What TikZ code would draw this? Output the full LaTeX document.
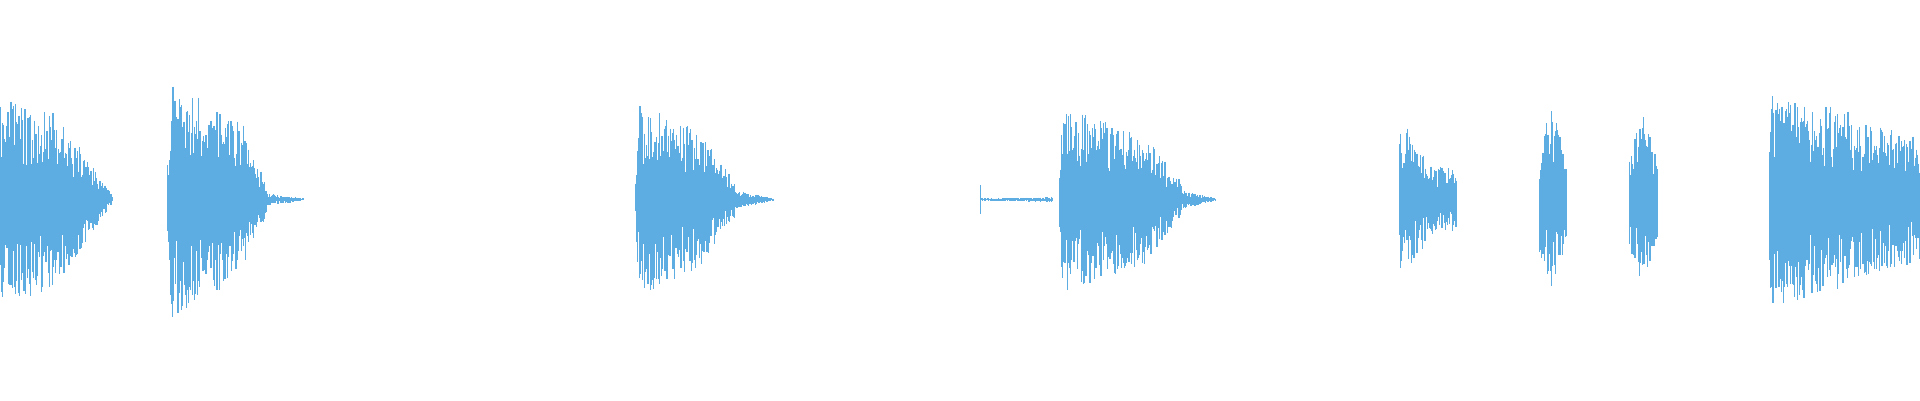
\documentclass[tikz,border=0pt]{standalone}
\definecolor{wave}{HTML}{5DADE2}
\tikzset{sample/.style={wave,line width=0.35pt}}
% one stretch of the waveform, envelope linear from #3 to #4
\newcommand{\seg}[4]{%
  \pgfmathsetmacro{\xnext}{#1+0.6}
  \foreach \x in {#1,\xnext,...,#2}
  {
    \pgfmathsetmacro{\env}{#3+(#4-#3)*(\x-#1)/(#2-#1+0.001)}
    \pgfmathsetmacro{\up}{\env*(0.35+0.65*rnd)}
    \pgfmathsetmacro{\dn}{\env*(0.35+0.65*rnd)}
    \draw[sample] (\x,163-\up) -- (\x,163+\dn);
  }
}
\begin{document}
\begin{tikzpicture}[x=0.012245cm,y=-0.012245cm]
\pgfmathsetseed{7}
\useasboundingbox (0,0) rectangle (1568,327);

%burst 1
\seg{0}{45}{82}{76}
\seg{45}{92}{72}{3}
%burst 2
\seg{137}{140}{30}{98}
\seg{140}{200}{98}{62}
\seg{200}{218}{55}{12}
\seg{218}{248}{5}{1}
%burst 3
\seg{519}{522}{15}{75}
\seg{522}{575}{78}{55}
\seg{575}{600}{50}{15}
\seg{600}{632}{8}{1}
%burst 4
\draw[sample] (801,151) -- (801,175);
\seg{802}{860}{1}{2}
\seg{865}{868}{25}{75}
\seg{868}{940}{75}{52}
\seg{940}{965}{45}{15}
\seg{965}{993}{8}{1}
%burst 5
\seg{1143}{1150}{55}{62}
\seg{1150}{1165}{58}{35}
\seg{1165}{1190}{30}{25}
%burst 6
\seg{1257}{1268}{45}{78}
\seg{1268}{1280}{75}{30}
%burst 7
\seg{1331}{1342}{45}{72}
\seg{1342}{1354}{70}{30}
%burst 8
\seg{1445}{1510}{88}{72}
\seg{1510}{1568}{68}{50}
\end{tikzpicture}
\end{document}
